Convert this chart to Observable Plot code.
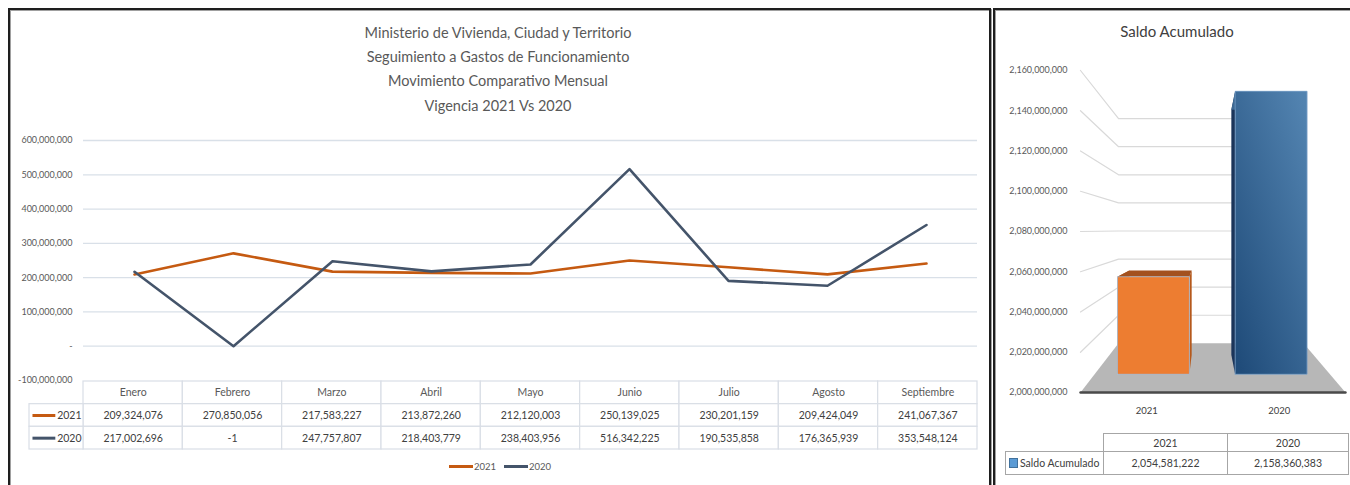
<!DOCTYPE html>
<html><head><meta charset="utf-8">
<script src="https://cdn.jsdelivr.net/npm/d3@7"></script>
<script src="https://cdn.jsdelivr.net/npm/@observablehq/plot@0.6"></script>
<style>
body{margin:0;width:1350px;height:485px;overflow:hidden;background:#fff;position:relative;font-family:Lato,"Open Sans",sans-serif;}
.abs{position:absolute;}
.panel{position:absolute;border:2px solid #1e1e1e;box-shadow:inset 1px 1px 0 #a0a0a0, 1px 1px 0 #a0a0a0;}
svg{overflow:visible;}
#legend span{display:inline-block;vertical-align:middle;}
#table2{border-collapse:collapse;table-layout:fixed;font-size:10.5px;color:#404040;}
#table2 td{padding:0;text-align:center;border:1px solid #A6A6A6;}
</style></head><body>
<div class="panel" style="left:8px;top:8px;width:979px;height:520px"></div>
<div class="panel" style="left:993px;top:8px;width:400px;height:520px"></div>
<div id="title" class="abs" style="left:0;top:21px;width:996px;text-align:center;font-size:14.5px;line-height:24.2px;color:#595959"></div>
<div id="line" class="abs" style="left:0;top:130px"></div>
<div id="table" class="abs" style="left:0;top:380px"></div>
<div id="legend" class="abs" style="left:0;top:460px;width:1000px;text-align:center;font-size:9.5px;color:#595959"></div>
<div id="title2" class="abs" style="left:995px;top:22px;width:364px;text-align:center;font-size:15px;color:#404040"></div>
<div id="bars" class="abs" style="left:994px;top:45px"></div>
<table id="table2" class="abs" style="left:1005px;top:433px"></table>
<script>
// ---------- data ----------
const titleLines = ["Ministerio de Vivienda, Ciudad y Territorio","Seguimiento a Gastos de Funcionamiento","Movimiento Comparativo Mensual","Vigencia 2021 Vs 2020"];
const months = ["Enero","Febrero","Marzo","Abril","Mayo","Junio","Julio","Agosto","Septiembre"];
const series = ["2021","2020"];
const values2021 = [209324076,270850056,217583227,213872260,212120003,250139025,230201159,209424049,241067367];
const values2020 = [217002696,-1,247757807,218403779,238403956,516342225,190535858,176365939,353548124];
const lineTicks = [-100000000,0,100000000,200000000,300000000,400000000,500000000,600000000];

const barTitle = "Saldo Acumulado";
const barCategories = ["2021","2020"];
const saldo = [2054581222,2158360383];
const barTicks = [2000000000,2020000000,2040000000,2060000000,2080000000,2100000000,2120000000,2140000000,2160000000];

// ---------- styles ----------
const seriesColors = ["#C55A11","#44546A"];
const locale = d3.formatLocale({decimal:".", thousands:",", grouping:[3], currency:["$",""], minus:"-"});
const fmt = locale.format(",");
const font = "Lato, 'Open Sans', sans-serif";

// ---------- titles ----------
document.getElementById("title").innerHTML = titleLines.map(t=>`<div>${t}</div>`).join("");
document.getElementById("title2").textContent = barTitle;

// ---------- line chart ----------
const rows = [];
series.forEach((s,si)=>{
  const vals = si===0 ? values2021 : values2020;
  months.forEach((m,i)=>rows.push({month:m, serie:s, value:vals[i]}));
});
const lineTickFmt = d => d===0 ? "-" : fmt(d);
const linePlot = Plot.plot({
  width:990, height:260, marginLeft:83, marginRight:13, marginTop:10, marginBottom:10,
  style:{fontFamily:font, background:"transparent", overflow:"visible"},
  x:{type:"point", domain:months, padding:0.5, axis:null},
  y:{domain:[lineTicks[0], lineTicks[lineTicks.length-1]], axis:null},
  color:{domain:series, range:seriesColors},
  marks:[
    Plot.gridY(lineTicks.filter(t=>t>lineTicks[0]), {stroke:"#D9E0E8", strokeOpacity:1, strokeWidth:1.3}),
    Plot.axisY(lineTicks, {tickSize:0, tickPadding:11, tickFormat:lineTickFmt, fontSize:9, fill:"#595959", label:null}),
    Plot.line(rows, {x:"month", y:"value", z:"serie", stroke:"serie", strokeWidth:2.6})
  ]
});
document.getElementById("line").append(linePlot);

// ---------- data table under line chart ----------
const nCols = months.length;
const cells = [];
months.forEach((m,i)=>{
  cells.push({x1:i, x2:i+1, y1:0, y2:1, text:m, head:true});
  series.forEach((s,si)=>{
    const vals = si===0 ? values2021 : values2020;
    cells.push({x1:i, x2:i+1, y1:si+1, y2:si+2, text:fmt(vals[i]), head:false});
  });
});
const labelW = 54/99.33;
const labelCells = series.map((s,si)=>({x1:-labelW, x2:0, y1:si+1, y2:si+2, serie:s}));
const tablePlot = Plot.plot({
  width:990, height:72, marginLeft:83, marginRight:13, marginTop:1, marginBottom:3,
  style:{fontFamily:font, background:"transparent", overflow:"visible"},
  x:{domain:[0,nCols], axis:null},
  y:{domain:[0,3], range:[1,69], axis:null},
  color:{domain:series, range:seriesColors},
  marks:[
    Plot.rect(cells.concat(labelCells), {x1:"x1", x2:"x2", y1:"y1", y2:"y2", fill:"white", stroke:"#D9DEE6", strokeWidth:1.2}),
    Plot.text(cells, {x:d=>(d.x1+d.x2)/2, y:d=>(d.y1+d.y2)/2, text:"text", fontSize:10.5, fill:d=>d.head?"#595959":"#404040"}),
    Plot.link(labelCells, {x1:d=>d.x1+0.03, x2:d=>d.x1+0.26, y1:d=>(d.y1+d.y2)/2, y2:d=>(d.y1+d.y2)/2, stroke:"serie", strokeWidth:3}),
    Plot.text(labelCells, {x:d=>d.x2, y:d=>(d.y1+d.y2)/2, text:"serie", textAnchor:"end", dx:-2, fontSize:10.5, fill:"#404040"})
  ]
});
document.getElementById("table").append(tablePlot);

// ---------- legend ----------
document.getElementById("legend").innerHTML = series.map((s,i)=>
  `<span style="width:24px;height:3px;background:${seriesColors[i]};margin-left:${i?8:0}px"></span><span style="margin-left:1px">${s}</span>`).join("");

// ---------- 3D bar chart ----------
const base = barTicks[0];
const VPX = 0.4755, VPY = 2080.84e6;        // vanishing point (data units)
const S_BACK = 0.698, S_FRONT_BAR = 0.888, S_BACK_BAR = 0.77;
const proj = (x, v, s) => ({x: VPX + (x - VPX)*s, y: VPY + (v - VPY)*s});
const nBars = barCategories.length;
const halfW = 0.1528;

const gridPts = [];
barTicks.forEach(t=>{
  if (t===base) return;
  [proj(0,t,1), proj(0,t,S_BACK), proj(1,t,S_BACK)].forEach(p=>gridPts.push({...p, tick:t}));
});
const floorPts = [proj(0,base,1), proj(1,base,1), proj(1,base,S_BACK), proj(0,base,S_BACK)];
const edgePts = [proj(0,base,1), proj(1,base,1)];

const faceColors = [
  {front:"#ED7D31", top:"#A3511F", side:"#B5591C", edge:"#9DC3E6"},
  {front:"url(#blueGrad)", top:"#3D6994", side:"#1B355A", edge:"#7FA6CF"}
];
const faceMarks = [];
saldo.forEach((v,i)=>{
  const cx = (i+0.5)/nBars, L = cx-halfW, R = cx+halfW;
  const sf = S_FRONT_BAR, sb = S_BACK_BAR, c = faceColors[i];
  const right = [proj(R,base,sf), proj(R,v,sf), proj(R,v,sb), proj(R,base,sb)];
  const left  = [proj(L,base,sf), proj(L,v,sf), proj(L,v,sb), proj(L,base,sb)];
  const top   = [proj(L,v,sf), proj(R,v,sf), proj(R,v,sb), proj(L,v,sb)];
  const front = [proj(L,base,sf), proj(R,base,sf), proj(R,v,sf), proj(L,v,sf), proj(L,base,sf)];
  faceMarks.push(
    Plot.line(left, {x:"x", y:"y", fill:c.side, stroke:"none"}),
    Plot.line(right, {x:"x", y:"y", fill:c.side, stroke:"none"}),
    Plot.line(top, {x:"x", y:"y", fill:c.top, stroke:"none"}),
    Plot.line(front, {x:"x", y:"y", fill:c.front, stroke:c.edge, strokeWidth:0.7})
  );
});

const barPlot = Plot.plot({
  width:356, height:380, marginLeft:86, marginRight:5, marginTop:25, marginBottom:33,
  style:{fontFamily:font, background:"transparent", overflow:"visible"},
  x:{domain:[0,1], axis:null},
  y:{domain:[base, barTicks[barTicks.length-1]], axis:null},
  marks:[
    Plot.axisY(barTicks, {tickSize:0, tickPadding:13, tickFormat:fmt, fontSize:9, fill:"#595959", label:null}),
    Plot.line(gridPts, {x:"x", y:"y", z:"tick", stroke:"#D9D9D9", strokeWidth:1.2}),
    Plot.line(floorPts, {x:"x", y:"y", fill:"#B7B7B7", stroke:"none"}),
    Plot.line(edgePts, {x:"x", y:"y", stroke:"#4A4A4A", strokeWidth:2.4}),
    ...faceMarks,
    Plot.text(barCategories, {x:(d,i)=>(i+0.5)/nBars, y:()=>base, dy:18, text:d=>d, fontSize:9.5, fill:"#404040"})
  ]
});
const defs = d3.select(barPlot).insert("defs", ":first-child");
const grad = defs.append("linearGradient").attr("id","blueGrad").attr("x1",0.1).attr("y1",1).attr("x2",0.9).attr("y2",0);
grad.append("stop").attr("offset","0%").attr("stop-color","#204C7A");
grad.append("stop").attr("offset","100%").attr("stop-color","#5283B0");
document.getElementById("bars").append(barPlot);

// ---------- table under bar chart ----------
const t2 = document.getElementById("table2");
t2.innerHTML =
  `<colgroup><col style="width:98px"><col style="width:124px"><col style="width:121px"></colgroup>` +
  `<tr style="height:18px"><td style="border:none"></td>${barCategories.map(c=>`<td>${c}</td>`).join("")}</tr>` +
  `<tr style="height:23px"><td style="text-align:left;padding-left:3px;white-space:nowrap"><span style="display:inline-block;width:7px;height:8px;background:#5B9BD5;border:1px solid #41719C;vertical-align:-1px;margin-right:2px"></span>${barTitle}</td>${saldo.map(v=>`<td>${fmt(v)}</td>`).join("")}</tr>`;
</script>
</body></html>
